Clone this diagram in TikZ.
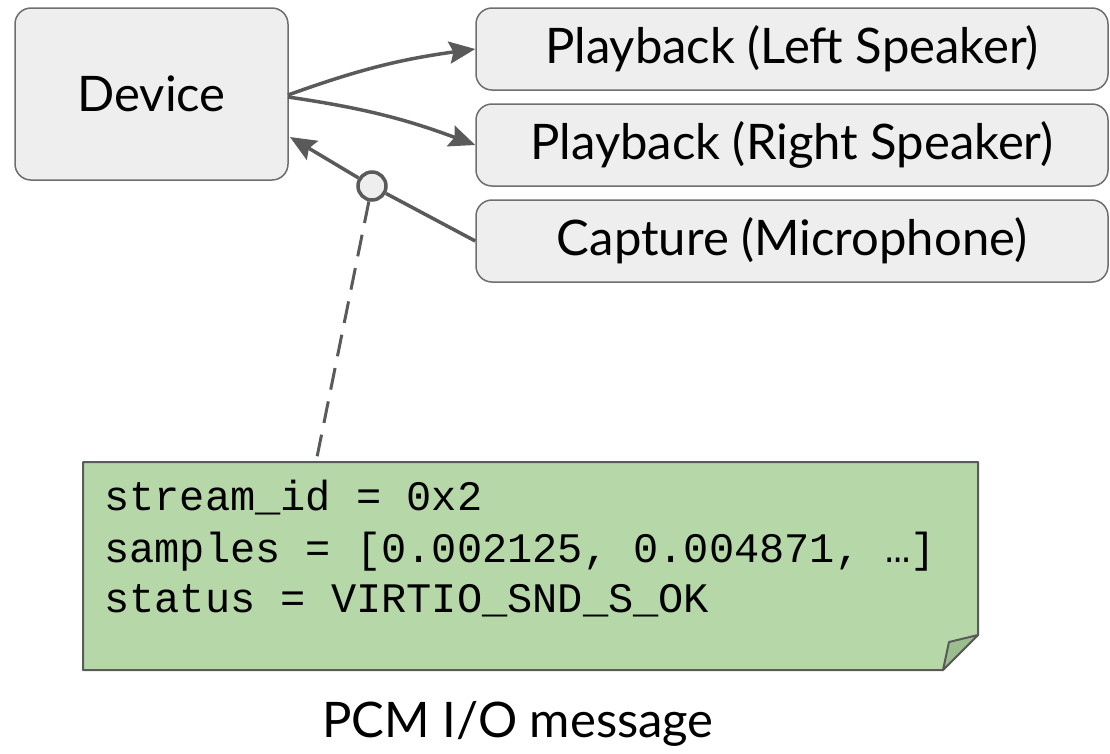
\documentclass[tikz,border=0pt]{standalone}
\usepackage{fontspec}
\setmainfont{Lato}
\setmonofont{Liberation Mono}
\usetikzlibrary{arrows.meta}
\definecolor{boxfill}{HTML}{EEEEEE}
\definecolor{boxline}{HTML}{6E6E6E}
\definecolor{conn}{HTML}{5A5A5A}
\definecolor{notefill}{HTML}{B6D7A8}
\definecolor{notefold}{HTML}{9BBE8E}
\tikzset{
  box/.style={draw=boxline, fill=boxfill, line width=1.5pt, rounded corners=16pt, font=\fontsize{49}{56}\selectfont, inner sep=0pt},
  conn/.style={draw=conn, line width=3.5pt},
  arr/.style={conn, -{Stealth[length=26pt,width=22pt,inset=4pt]}},
  notetext/.style={font=\ttfamily\fontsize{42}{50}\selectfont, anchor=base west, inner sep=0pt},
}
\begin{document}
\begin{tikzpicture}[x=1pt,y=-1pt]
\useasboundingbox (0,0) rectangle (1110,753);
% boxes
\node[box, minimum width=273pt, minimum height=172pt] (dev) at (151.5,94) {Device};
\node[box, minimum width=632pt, minimum height=82pt] (left) at (792,49) {Playback (Left Speaker)};
\node[box, minimum width=632pt, minimum height=82pt] (right) at (792,145) {Playback (Right Speaker)};
\node[box, minimum width=632pt, minimum height=82pt] (cap) at (792,241) {Capture (Microphone)};
% connectors
\coordinate (devout1) at (288,95);
\coordinate (devout2) at (288,97);
\coordinate (devin) at (290,137);
\draw[arr] (devout1) to[bend left=6] (left.west);
\draw[arr] (devout2) to[bend left=6] (right.west);
\node[circle, draw=conn, fill=boxfill, line width=3.5pt, minimum size=28pt, inner sep=0pt] (c) at (372,186) {};
\draw[conn] (cap.west) -- (c);
\draw[arr] (c) -- (devin);
% note
\coordinate (ntl) at (83,462);
\draw[draw=conn, fill=notefill, line width=2pt, line join=round] (ntl) -- (978,462) -- (978,635) -- (943,670) -- (83,670) -- cycle;
\draw[draw=conn, fill=notefold, line width=2pt, line join=round] (943,670) -- (949,642) -- (978,635) -- cycle;
\coordinate (ntop) at (316,462);
\draw[conn, line width=3pt, dash pattern=on 22pt off 12pt] (c) -- (ntop);
\node[notetext] (l1) at (104,510) {stream\_id = 0x2};
\node[notetext] (l2) at (104,562) {samples = [0.002125, 0.004871, …]};
\node[notetext] (l3) at (104,612) {status = VIRTIO\_SND\_S\_OK};
\node[font=\fontsize{49}{56}\selectfont, inner sep=0pt] (cap2) at (518,724) {PCM I/O message};
\end{tikzpicture}
\end{document}
